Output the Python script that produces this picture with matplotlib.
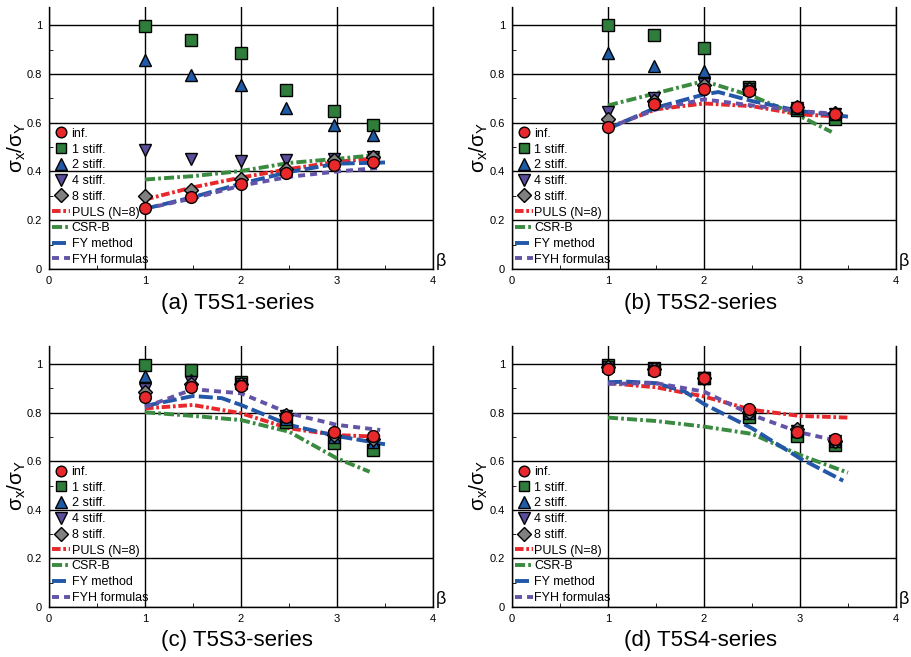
import matplotlib
matplotlib.use("Agg")
import matplotlib.pyplot as plt
from matplotlib.ticker import MultipleLocator

plt.rcParams['font.family'] = ['Liberation Sans', 'DejaVu Sans']
plt.rcParams['mathtext.fontset'] = 'custom'
plt.rcParams['mathtext.rm'] = 'Liberation Sans'
plt.rcParams['mathtext.it'] = 'Liberation Sans'

# beta values of the FE results
beta = [1.0, 1.48, 2.0, 2.47, 2.97, 3.37]

# FE results, one dict per panel
a_pts = {'inf.':      [0.249, 0.295, 0.35, 0.394, 0.428, 0.437],
         '1 stiff.':  [0.997, 0.940, 0.888, 0.734, 0.647, 0.589],
         '2 stiff.':  [0.856, 0.797, 0.753, 0.662, 0.590, 0.551],
         '4 stiff.':  [0.490, 0.451, 0.445, 0.446, 0.451, 0.460],
         '8 stiff.':  [0.299, 0.325, 0.369, 0.41, 0.446, 0.460]}
b_pts = {'inf.':      [0.582, 0.675, 0.740, 0.730, 0.664, 0.637],
         '1 stiff.':  [1.0, 0.960, 0.908, 0.748, 0.651, 0.616],
         '2 stiff.':  [0.888, 0.833, 0.812, 0.740, 0.662, 0.634],
         '4 stiff.':  [0.644, 0.700, 0.758, 0.740, 0.662, 0.634],
         '8 stiff.':  [0.614, 0.689, 0.753, 0.740, 0.666, 0.638]}
c_pts = {'inf.':      [0.866, 0.904, 0.911, 0.783, 0.721, 0.704],
         '1 stiff.':  [0.996, 0.978, 0.926, 0.760, 0.677, 0.646],
         '2 stiff.':  [0.951, 0.935, 0.922, 0.775, 0.700, 0.680],
         '4 stiff.':  [0.896, 0.925, 0.920, 0.785, 0.705, 0.685],
         '8 stiff.':  [0.886, 0.920, 0.920, 0.790, 0.710, 0.690]}
d_pts = {'inf.':      [0.979, 0.974, 0.942, 0.816, 0.722, 0.690],
         '1 stiff.':  [0.997, 0.985, 0.945, 0.781, 0.704, 0.667],
         '2 stiff.':  [0.992, 0.982, 0.945, 0.800, 0.725, 0.685],
         '4 stiff.':  [0.990, 0.980, 0.945, 0.800, 0.725, 0.685],
         '8 stiff.':  [0.990, 0.980, 0.945, 0.805, 0.732, 0.685]}

# design methods: (beta, value)
a_lines = {'PULS (N=8)':  ([1, 1.5, 2, 2.5, 3, 3.45], [0.285, 0.335, 0.375, 0.41, 0.44, 0.455]),
           'CSR-B':       ([1, 1.5, 2, 2.5, 3, 3.45], [0.367, 0.381, 0.402, 0.435, 0.452, 0.469]),
           'FY method':   ([1, 1.5, 2, 2.5, 3, 3.5], [0.247, 0.295, 0.35, 0.398, 0.432, 0.437]),
           'FYH formulas': ([1, 1.5, 2, 2.5, 3, 3.45], [0.247, 0.29, 0.342, 0.378, 0.40, 0.415])}
b_lines = {'PULS (N=8)':  ([1, 1.5, 2, 2.5, 3, 3.45], [0.579, 0.655, 0.679, 0.668, 0.634, 0.625]),
           'CSR-B':       ([1, 1.5, 2, 2.5, 3, 3.33], [0.671, 0.721, 0.771, 0.710, 0.627, 0.562]),
           'FY method':   ([1, 1.5, 2, 2.15, 2.5, 3, 3.5], [0.575, 0.662, 0.716, 0.726, 0.689, 0.648, 0.625]),
           'FYH formulas': ([1, 1.5, 2, 2.5, 3, 3.45], [0.579, 0.655, 0.696, 0.671, 0.648, 0.634])}
c_lines = {'PULS (N=8)':  ([1, 1.5, 2, 2.5, 3, 3.45], [0.818, 0.832, 0.798, 0.736, 0.708, 0.701]),
           'CSR-B':       ([1, 1.5, 2, 2.5, 3, 3.34], [0.802, 0.787, 0.770, 0.722, 0.612, 0.557]),
           'FY method':   ([1, 1.5, 1.8, 2, 2.5, 3, 3.5], [0.828, 0.869, 0.860, 0.832, 0.750, 0.704, 0.670]),
           'FYH formulas': ([1, 1.5, 2, 2.5, 3, 3.45], [0.823, 0.897, 0.880, 0.798, 0.750, 0.729])}
d_lines = {'PULS (N=8)':  ([1, 1.5, 2, 2.5, 3, 3.5], [0.922, 0.905, 0.867, 0.812, 0.787, 0.780]),
           'CSR-B':       ([1, 1.5, 2, 2.5, 3, 3.5], [0.780, 0.766, 0.743, 0.713, 0.626, 0.553]),
           'FY method':   ([1, 1.2, 1.5, 1.8, 2, 2.5, 3, 3.45], [0.926, 0.928, 0.922, 0.887, 0.836, 0.736, 0.612, 0.520]),
           'FYH formulas': ([1, 1.5, 2, 2.5, 3, 3.35], [0.919, 0.922, 0.887, 0.791, 0.719, 0.688])}

titles = ['(a) T5S1-series', '(b) T5S2-series', '(c) T5S3-series', '(d) T5S4-series']

marker_style = {'inf.':     dict(marker='o', color='#e8282b', ms=8.5, z=8),
                '1 stiff.': dict(marker='s', color='#2f7d3a', ms=8.5, z=4),
                '2 stiff.': dict(marker='^', color='#1f5aa6', ms=9, z=5),
                '4 stiff.': dict(marker='v', color='#5a4e9c', ms=9, z=6),
                '8 stiff.': dict(marker='D', color='#808080', ms=7.5, z=7)}
line_style = {'PULS (N=8)':   dict(color='#e8282b', dashes=(2.2, 0.7, 0.7, 0.7)),
              'CSR-B':        dict(color='#3a8a40', dashes=(2.6, 0.8, 0.7, 0.8)),
              'FY method':    dict(color='#2457a8', dashes=(3.6, 1.1)),
              'FYH formulas': dict(color='#6354a8', dashes=(1.8, 1.3))}

fig = plt.figure(figsize=(9.11, 6.57), dpi=100)
boxes = [[0.0538, 0.5906, 0.4215, 0.3988], [0.562, 0.5906, 0.4215, 0.3988],
         [0.0538, 0.0761, 0.4215, 0.3973], [0.562, 0.0761, 0.4215, 0.3973]]

for box, pts, lines, title in zip(boxes, [a_pts, b_pts, c_pts, d_pts],
                                  [a_lines, b_lines, c_lines, d_lines], titles):
    ax = fig.add_axes(box)
    handles = []
    for name, vals in pts.items():
        st = marker_style[name]
        h, = ax.plot(beta, vals, linestyle='none', marker=st['marker'], color=st['color'],
                     ms=st['ms'], mec='black', mew=1.0, zorder=st['z'], label=name)
        handles.append(h)
    for name, (xs, ys) in lines.items():
        st = line_style[name]
        h, = ax.plot(xs, ys, color=st['color'], lw=2.8, dashes=st['dashes'],
                     zorder=3, label=name)
        handles.append(h)

    ax.set_xlim(0, 4)
    ax.set_ylim(0, 1.075)
    ax.set_xticks([0, 1, 2, 3, 4])
    ax.set_xticklabels(['0', '1', '2', '3', '4'])
    ax.set_yticks([0, 0.2, 0.4, 0.6, 0.8, 1.0])
    ax.set_yticklabels(['0', '0.2', '0.4', '0.6', '0.8', '1'])
    ax.xaxis.set_minor_locator(MultipleLocator(0.5))
    ax.yaxis.set_minor_locator(MultipleLocator(0.1))
    ax.tick_params(which='both', direction='in', labelsize=8, top=False, right=False)
    ax.tick_params(which='major', length=0, pad=5)
    ax.tick_params(which='minor', length=3)
    ax.grid(True, which='major', color='black', lw=1.0)
    ax.set_axisbelow(True)
    ax.spines['top'].set_visible(False)
    for s in ['left', 'right', 'bottom']:
        ax.spines[s].set_linewidth(1.0)

    ax.set_ylabel(r'$\mathregular{\sigma_x/\sigma_Y}$', fontsize=15)
    ax.yaxis.set_label_coords(-0.056, 0.466)
    ax.text(1.02, 0.03, 'β', transform=ax.transAxes, fontsize=13, ha='center', va='center')
    ax.text(0.49, -0.13, title, transform=ax.transAxes, fontsize=16, ha='center', va='center')

    leg = ax.legend(handles=handles, loc='lower left', bbox_to_anchor=(0.0, 0.0),
                    frameon=False, fontsize=9, borderaxespad=0.1, borderpad=0.15,
                    labelspacing=0.3, handlelength=1.4, handletextpad=0.15,
                    markerscale=0.9)
    leg.set_zorder(10)

fig.savefig('out.png', dpi=100)
